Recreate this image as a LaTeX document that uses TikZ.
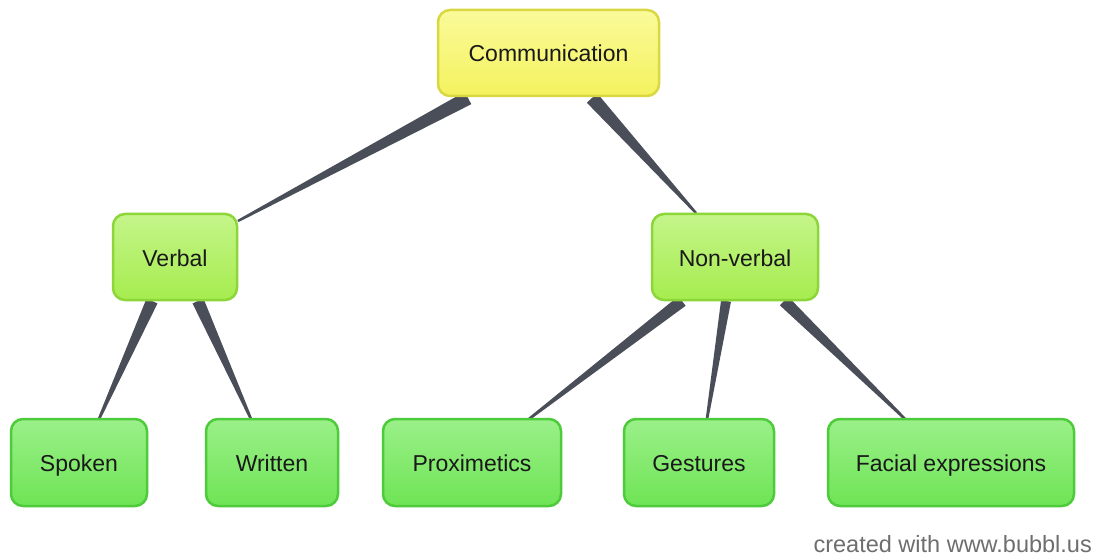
\documentclass[tikz,border=0pt]{standalone}
\usepackage{fontspec}
\setmainfont{Liberation Sans}
\usetikzlibrary{calc}
\definecolor{wedgecol}{HTML}{4A4E58}
\definecolor{yfill}{HTML}{F4F25E}
\definecolor{ytop}{HTML}{FAFA9A}
\definecolor{yborder}{HTML}{D9D843}
\definecolor{lfill}{HTML}{A6EC4E}
\definecolor{ltop}{HTML}{C4F58A}
\definecolor{lborder}{HTML}{8DD63A}
\definecolor{gfill}{HTML}{6FE455}
\definecolor{gtop}{HTML}{9AF089}
\definecolor{gborder}{HTML}{4DCB3A}
\definecolor{footcol}{HTML}{6E6E6E}
\tikzset{
  box/.style={rounded corners=12pt, line width=2.5pt, inner sep=0pt, align=center,
    font=\fontsize{23}{26}\selectfont, text=black!90, text height=20pt, text depth=2pt},
  rootbox/.style={box, draw=yborder, top color=ytop, bottom color=yfill},
  midbox/.style={box, draw=lborder, top color=ltop, bottom color=lfill},
  leafbox/.style={box, draw=gborder, top color=gtop, bottom color=gfill},
  wedgefill/.style={fill=wedgecol}
}
\newcommand{\wedgelink}[4]{%
  \fill[wedgefill] ($(#1)!#3!90:(#2)$) -- ($(#1)!#3!-90:(#2)$)
    -- ($(#2)!#4!90:(#1)$) -- ($(#2)!#4!-90:(#1)$) -- cycle;}
\begin{document}
\begin{tikzpicture}[x=1pt,y=-1pt]
\useasboundingbox[fill=white] (0,0) rectangle (1100,556);
% anchor points for connectors
\coordinate (c1) at (468,98);
\coordinate (c2) at (592,98);
\coordinate (v0) at (238,221);
\coordinate (n0) at (696,213);
\coordinate (v1) at (152,301);
\coordinate (v2) at (198,301);
\coordinate (s0) at (99,419);
\coordinate (w0) at (251,419);
\coordinate (n1) at (682,301);
\coordinate (n2) at (726,301);
\coordinate (n3) at (784,301);
\coordinate (p0) at (529,419);
\coordinate (g0) at (707,419);
\coordinate (f0) at (905,419);
\wedgelink{c1}{v0}{7pt}{1.2pt}
\wedgelink{c2}{n0}{7pt}{1.2pt}
\wedgelink{v1}{s0}{6pt}{1.3pt}
\wedgelink{v2}{w0}{6pt}{1.3pt}
\wedgelink{n1}{p0}{6pt}{1.3pt}
\wedgelink{n2}{g0}{5pt}{1.3pt}
\wedgelink{n3}{f0}{6pt}{1.3pt}
% nodes
\node[rootbox, minimum width=221pt, minimum height=86pt] (comm) at (548.5,53) {Communication};
\node[midbox, minimum width=124pt, minimum height=86pt] (verbal) at (175,257) {Verbal};
\node[midbox, minimum width=166pt, minimum height=86pt] (nonverbal) at (735,257) {Non-verbal};
\node[leafbox, minimum width=136pt, minimum height=87pt] (spoken) at (79,462.5) {Spoken};
\node[leafbox, minimum width=132pt, minimum height=87pt] (written) at (272,462.5) {Written};
\node[leafbox, minimum width=178pt, minimum height=87pt] (prox) at (472,462.5) {Proximetics};
\node[leafbox, minimum width=150pt, minimum height=87pt] (gest) at (699,462.5) {Gestures};
\node[leafbox, minimum width=246pt, minimum height=87pt] (facial) at (951,462.5) {Facial expressions};
\node[anchor=base east, text=footcol, font=\fontsize{23.5}{26}\selectfont, inner sep=0pt] (foot) at (1092,552) {created with www.bubbl.us};
\end{tikzpicture}
\end{document}
